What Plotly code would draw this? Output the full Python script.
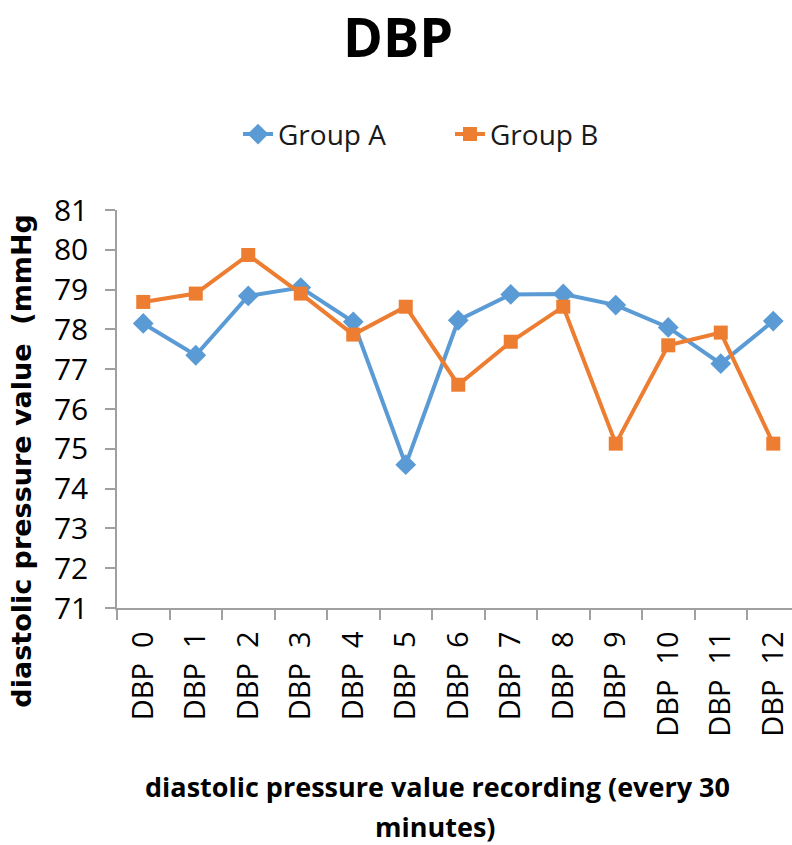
import plotly.graph_objects as go

# Recording points (every 30 minutes)
labels = ["DBP\u00a0\u00a0" + str(i) for i in range(13)]

# Mean diastolic pressure per group (mmHg)
group_a = [78.15, 77.35, 78.84, 79.05, 78.19, 74.60, 78.23, 78.88, 78.89, 78.61, 78.05, 77.14, 78.21]
group_b = [78.69, 78.90, 79.87, 78.90, 77.87, 78.57, 76.61, 77.69, 78.57, 75.13, 77.60, 77.92, 75.13]

y_ticks = list(range(71, 82))

BLUE = "#5B9BD5"
ORANGE = "#ED7D31"
AXIS = "#a0a0a0"

fig = go.Figure()
fig.add_trace(go.Scatter(
    x=labels, y=group_a, name="Group A", mode="lines+markers",
    line=dict(color=BLUE, width=4),
    marker=dict(symbol="diamond", size=16, color=BLUE),
))
fig.add_trace(go.Scatter(
    x=labels, y=group_b, name="Group B", mode="lines+markers",
    line=dict(color=ORANGE, width=4),
    marker=dict(symbol="square", size=14, color=ORANGE),
))

fig.update_layout(
    width=792, height=845,
    margin=dict(l=117, r=0, t=210, b=237, pad=0),
    paper_bgcolor="white", plot_bgcolor="white",
    font=dict(family="Open Sans", color="black"),
    title=dict(
        text="<b>DBP</b>", x=398 / 792, xanchor="center",
        yref="container", y=1 - 38 / 845, yanchor="middle",
        font=dict(family="Open Sans", size=54, color="black"),
    ),
    showlegend=True,
    legend=dict(
        orientation="h", x=(238 - 117) / 675, xanchor="left", y=1.19, yanchor="middle",
        font=dict(family="Open Sans", size=28, color="#1a1a1a"),
        entrywidth=167, entrywidthmode="pixels", tracegroupgap=0,
    ),
    xaxis=dict(
        type="category", range=[-0.5, 12.357],
        tickson="boundaries", ticks="outside", ticklen=10, tickcolor=AXIS, tickwidth=1.5,
        showline=True, linecolor=AXIS, linewidth=1.5,
        showgrid=False, zeroline=False,
        tickangle=-90, tickfont=dict(family="Open Sans", size=29, color="black"),
        ticklabelstandoff=10,
    ),
    yaxis=dict(
        range=[71, 81], tickmode="array", tickvals=y_ticks,
        ticks="outside", ticklen=10, tickcolor=AXIS, tickwidth=1.5,
        showline=True, linecolor=AXIS, linewidth=1.5,
        showgrid=False, zeroline=False,
        tickfont=dict(family="Open Sans", size=30, color="black"),
        ticklabelstandoff=11,
    ),
)

# Axis titles
fig.add_annotation(
    text="<b>diastolic pressure value\u00a0\u00a0(mmHg</b>",
    xref="paper", yref="paper", x=(22 - 117) / 675, y=(607 - 460) / 397,
    xanchor="center", yanchor="middle", textangle=-90, showarrow=False,
    font=dict(family="DejaVu Sans", size=27, color="black"),
)
fig.add_annotation(
    text="<b>diastolic pressure value recording (every 30</b>",
    xref="paper", yref="paper", x=(437 - 117) / 675, y=(607 - 785) / 397,
    xanchor="center", yanchor="middle", showarrow=False,
    font=dict(family="Open Sans", size=27, color="black"),
)
fig.add_annotation(
    text="<b>minutes)</b>",
    xref="paper", yref="paper", x=(435 - 117) / 675, y=(607 - 825) / 397,
    xanchor="center", yanchor="middle", showarrow=False,
    font=dict(family="Open Sans", size=27, color="black"),
)

fig.write_html("out.html")
